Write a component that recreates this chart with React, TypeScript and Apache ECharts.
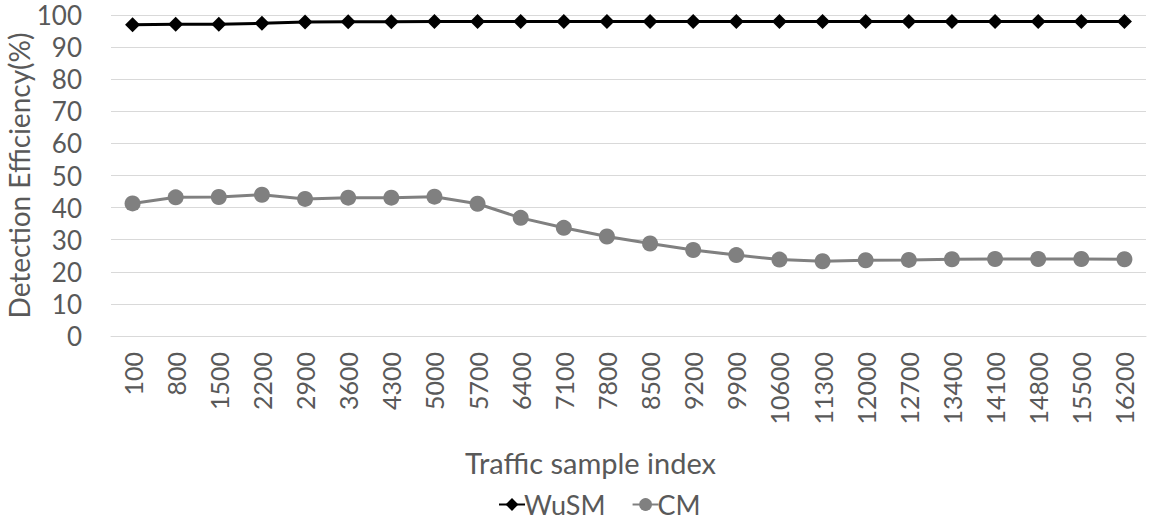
import React, { useEffect, useRef } from "react";
import * as echarts from "echarts";

const categories = [
  "100", "800", "1500", "2200", "2900", "3600", "4300", "5000", "5700", "6400",
  "7100", "7800", "8500", "9200", "9900", "10600", "11300", "12000", "12700",
  "13400", "14100", "14800", "15500", "16200",
];

const wusm = [
  97.0, 97.1, 97.1, 97.4, 97.8, 97.9, 97.9, 98.0, 98.0, 98.0, 98.0, 98.0,
  98.0, 98.0, 98.0, 98.0, 98.0, 98.0, 98.0, 98.0, 98.0, 98.0, 98.0, 98.0,
];

const cm = [
  41.3, 43.2, 43.3, 44.0, 42.7, 43.1, 43.1, 43.4, 41.2, 36.8, 33.7, 31.0,
  28.8, 26.8, 25.2, 23.8, 23.3, 23.6, 23.7, 23.9, 24.0, 24.0, 24.0, 23.9,
];

const FONT = "Lato, 'Open Sans', sans-serif";
const TEXT = "#595959";

export default function App() {
  const ref = useRef<HTMLDivElement>(null);

  useEffect(() => {
    document.body.style.margin = "0";
    if (!ref.current) return;
    const chart = echarts.init(ref.current, undefined, { renderer: "svg" });
    chart.setOption({
      animation: false,
      backgroundColor: "#ffffff",
      textStyle: { fontFamily: FONT, color: TEXT },
      grid: {
        left: 111,
        right: 4,
        top: 15,
        bottom: 189,
        containLabel: false,
        outerBoundsMode: "none",
      },
      legend: {
        bottom: 2,
        left: 493,
        itemWidth: 26,
        itemHeight: 16,
        itemGap: 26,
        textStyle: { fontFamily: FONT, fontSize: 27, color: TEXT, padding: [0, 0, 0, -6] },
        data: ["WuSM", "CM"],
      },
      xAxis: {
        type: "category",
        data: categories,
        boundaryGap: true,
        name: "Traffic sample index",
        nameLocation: "middle",
        nameGap: 112,
        nameTextStyle: {
          fontFamily: FONT,
          fontSize: 29,
          color: TEXT,
          padding: [0, 76, 0, 0],
        },
        axisLine: { show: true, lineStyle: { color: "#d9d9d9", width: 1 } },
        axisTick: { show: false },
        axisLabel: {
          rotate: 90,
          margin: 16,
          fontFamily: FONT,
          fontSize: 25,
          color: TEXT,
          interval: 0,
        },
        splitLine: { show: false },
      },
      yAxis: {
        type: "value",
        min: 0,
        max: 100,
        interval: 10,
        name: "Detection Efficiency(%)",
        nameLocation: "middle",
        nameGap: 78,
        nameMoveOverlap: false,
        nameRotate: 90,
        nameTextStyle: { fontFamily: FONT, fontSize: 28, color: TEXT },
        axisLine: { show: false },
        axisTick: { show: false },
        axisLabel: { margin: 29, fontFamily: FONT, fontSize: 26, color: TEXT },
        splitLine: { show: true, lineStyle: { color: "#d9d9d9", width: 1 } },
      },
      series: [
        {
          name: "WuSM",
          type: "line",
          data: wusm,
          symbol: "diamond",
          symbolSize: 15,
          lineStyle: { color: "#000000", width: 3 },
          itemStyle: { color: "#000000" },
        },
        {
          name: "CM",
          type: "line",
          data: cm,
          symbol: "circle",
          symbolSize: 16,
          lineStyle: { color: "#808080", width: 3 },
          itemStyle: { color: "#808080" },
        },
      ],
    });
    return () => chart.dispose();
  }, []);

  return (
    <div
      ref={ref}
      style={{ position: "absolute", left: 0, top: 0, width: 1150, height: 525 }}
    />
  );
}
